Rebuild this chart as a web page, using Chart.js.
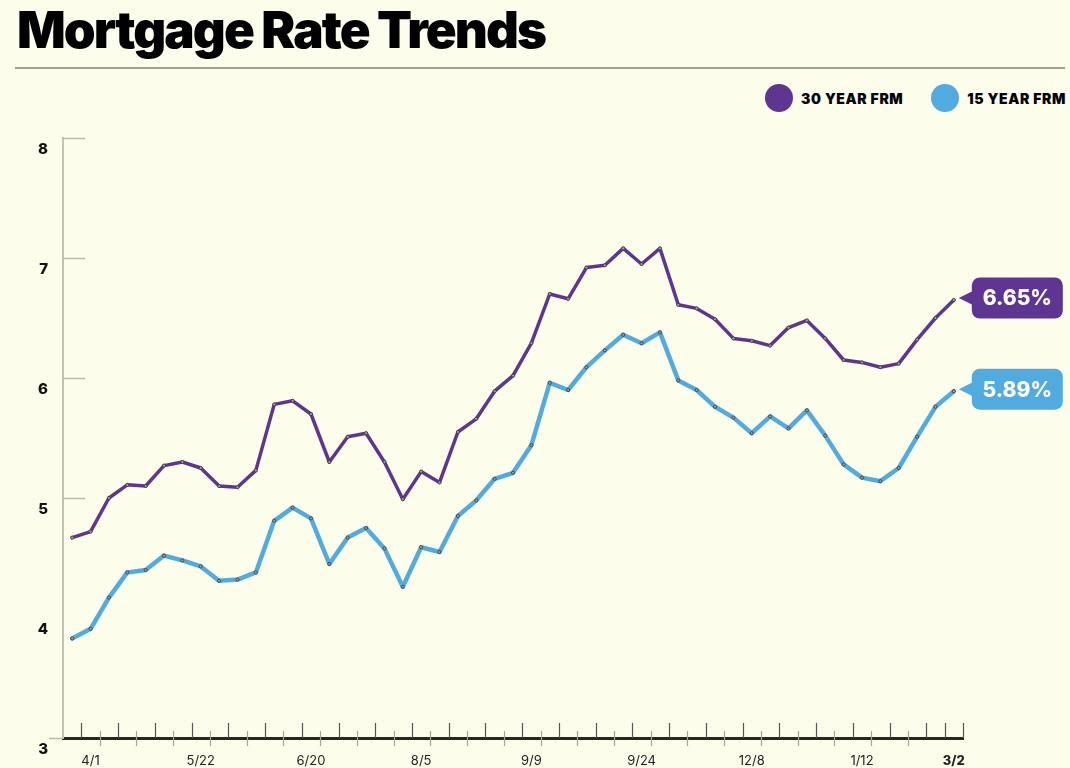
<!DOCTYPE html>
<html lang="en">
<head>
<meta charset="UTF-8">
<title>Mortgage Rate Trends</title>
<script src="https://cdn.jsdelivr.net/npm/chart.js@4"></script>
<style>
  html, body { margin: 0; padding: 0; }
  body { width: 1070px; height: 768px; background: #fdfdec; position: relative; overflow: hidden;
         font-family: Inter, "Noto Sans", sans-serif; color: #000; }
  h1 { position: absolute; left: 17px; top: 4px; margin: 0; font-size: 51px; line-height: 1;
       font-weight: 900; letter-spacing: -1.9px; }
  .rule { position: absolute; left: 15px; right: 5px; top: 67px; height: 2px; background: #a0a096; }
  #legend { position: absolute; left: 765px; top: 84px; display: flex; align-items: center; }
  #legend .dot { width: 28px; height: 28px; border-radius: 50%; }
  #legend .txt { font-size: 14px; font-weight: 900; letter-spacing: 0.6px; margin: 0 28px 0 8px; }
  #legend .txt:last-child { margin-right: 0; }
  canvas { position: absolute; left: 0; top: 0; }
</style>
</head>
<body>
<h1>Mortgage Rate Trends</h1>
<div class="rule"></div>
<div id="legend"></div>
<canvas id="rates" width="1070" height="768"></canvas>
<script>
// weekly survey dates, 3/31 through 3/2
const weeks = ['3/31','4/7','4/14','4/21','4/28','5/5','5/12','5/19','5/26','6/2','6/9','6/16','6/23','6/30',
  '7/7','7/14','7/21','7/28','8/4','8/11','8/18','8/25','9/1','9/8','9/15','9/22','9/29','10/6','10/13',
  '10/20','10/27','11/3','11/10','11/17','11/23','12/1','12/8','12/15','12/22','12/29','1/5','1/12','1/19',
  '1/26','2/2','2/9','2/16','2/23','3/2'];
const tickLabels = ['4/1','5/22','6/20','8/5','9/9','9/24','12/8','1/12','3/2'];
const frm30 = [4.67, 4.72, 5.00, 5.11, 5.10, 5.27, 5.30, 5.25, 5.10, 5.09, 5.23, 5.78, 5.81, 5.70,
  5.30, 5.51, 5.54, 5.30, 4.99, 5.22, 5.13, 5.55, 5.66, 5.89, 6.02, 6.29, 6.70, 6.66, 6.92,
  6.94, 7.08, 6.95, 7.08, 6.61, 6.58, 6.49, 6.33, 6.31, 6.27, 6.42, 6.48, 6.33, 6.15,
  6.13, 6.09, 6.12, 6.32, 6.50, 6.65];
const frm15 = [3.83, 3.91, 4.17, 4.38, 4.40, 4.52, 4.48, 4.43, 4.31, 4.32, 4.38, 4.81, 4.92, 4.83,
  4.45, 4.67, 4.75, 4.58, 4.26, 4.59, 4.55, 4.85, 4.98, 5.16, 5.21, 5.44, 5.96, 5.90, 6.09,
  6.23, 6.36, 6.29, 6.38, 5.98, 5.90, 5.76, 5.67, 5.54, 5.68, 5.58, 5.73, 5.52, 5.28,
  5.17, 5.14, 5.25, 5.51, 5.76, 5.89];
const seriesNames = ['30 YEAR FRM', '15 YEAR FRM'];
const seriesColors = ['#5e3591', '#52abdf'];
const gridValues = [5, 6, 7, 8];

const FONT = 'Inter, "Noto Sans", sans-serif';

// legend in html
const legend = document.getElementById('legend');
seriesNames.forEach((name, i) => {
  const d = document.createElement('span');
  d.className = 'dot';
  d.style.background = seriesColors[i];
  const t = document.createElement('span');
  t.className = 'txt';
  t.textContent = name;
  legend.appendChild(d);
  legend.appendChild(t);
});

// short inner grid marks on y axis + tick marks along x axis
const axisMarks = {
  id: 'axisMarks',
  beforeDatasetsDraw(chart) {
    const { ctx, scales: { x, y }, chartArea } = chart;
    ctx.save();
    ctx.strokeStyle = '#b8b8ad';
    ctx.lineWidth = 1.5;
    gridValues.forEach(v => {
      const py = Math.round(y.getPixelForValue(v)) + 0.5;
      ctx.beginPath();
      ctx.moveTo(chartArea.left, py);
      ctx.lineTo(chartArea.left + 22, py);
      ctx.stroke();
    });
    const step = x.getPixelForValue(1) - x.getPixelForValue(0);
    const start = x.getPixelForValue(0) - step / 2;
    const base = chartArea.bottom;
    ctx.lineWidth = 1.2;
    for (let k = 1; k <= weeks.length; k++) {
      const px = Math.round(start + k * step) + 0.5;
      const cross = k % 2 === 0 && k < weeks.length - 1;
      ctx.strokeStyle = cross ? '#a5a59c' : '#555';
      ctx.beginPath();
      if (cross) { ctx.moveTo(px, base - 7); ctx.lineTo(px, base + 8); }
      else { ctx.moveTo(px, base - 15); ctx.lineTo(px, base); }
      ctx.stroke();
    }
    ctx.restore();
  }
};

// value callouts at the end of each line
const callouts = {
  id: 'callouts',
  afterDatasetsDraw(chart) {
    const { ctx } = chart;
    chart.data.datasets.forEach((ds, i) => {
      const meta = chart.getDatasetMeta(i);
      const last = meta.data.length - 1;
      const pt = meta.data[last];
      const cy = pt.y - 2;
      const bx = pt.x + 18, bw = 91, bh = 41, r = 8;
      ctx.save();
      ctx.fillStyle = ds.borderColor;
      ctx.beginPath();
      ctx.moveTo(pt.x + 5, cy);
      ctx.lineTo(bx + 1, cy - 7);
      ctx.lineTo(bx + 1, cy + 7);
      ctx.closePath();
      ctx.fill();
      ctx.beginPath();
      ctx.roundRect(bx, cy - bh / 2, bw, bh, r);
      ctx.fill();
      ctx.fillStyle = '#fff';
      ctx.font = '800 21px ' + FONT;
      ctx.textAlign = 'center';
      ctx.textBaseline = 'middle';
      ctx.fillText(ds.data[last].toFixed(2) + '%', bx + bw / 2, cy + 1);
      ctx.restore();
    });
  }
};

const pointStyle = {
  pointRadius: 1.6, pointHoverRadius: 1.6, pointBackgroundColor: '#a0a0a0',
  pointBorderColor: '#333', pointBorderWidth: 0.8
};

new Chart(document.getElementById('rates'), {
  type: 'line',
  data: {
    labels: weeks,
    datasets: [
      Object.assign({ label: seriesNames[0], data: frm30, borderColor: seriesColors[0], borderWidth: 3.5 }, pointStyle),
      Object.assign({ label: seriesNames[1], data: frm15, borderColor: seriesColors[1], borderWidth: 4.5 }, pointStyle)
    ]
  },
  options: {
    responsive: false,
    animation: false,
    layout: { padding: { top: 138, right: 107, left: 0, bottom: 0 } },
    elements: {
      line: { tension: 0, borderJoinStyle: 'round', borderCapStyle: 'round' }
    },
    plugins: { legend: { display: false }, tooltip: { enabled: false } },
    scales: {
      x: {
        type: 'category',
        offset: true,
        afterFit: s => { s.height = 30; },
        grid: { display: false },
        border: { display: true, color: '#262626', width: 3 },
        ticks: {
          autoSkip: false, maxRotation: 0, padding: 7, color: '#222',
          font: c => ({ family: FONT, size: 13, weight: c.index === weeks.length - 1 ? '800' : '400' }),
          callback: (v, i) => {
            if (i === weeks.length - 1) return tickLabels[tickLabels.length - 1];
            if ((i - 1) % 6 === 0) return tickLabels[(i - 1) / 6];
            return '';
          }
        }
      },
      y: {
        min: 3, max: 8,
        afterFit: s => { s.width = 63; },
        grid: { drawOnChartArea: false, drawTicks: true, tickLength: 14, tickWidth: 1.5,
                tickColor: c => c.tick && c.tick.value === 3 ? '#b8b8ad' : 'rgba(0,0,0,0)' },
        border: { display: true, color: '#c2c2b6', width: 2 },
        ticks: { stepSize: 1, padding: 1, labelOffset: 11, color: '#111',
                 font: { family: FONT, size: 15, weight: '800' } }
      }
    }
  },
  plugins: [axisMarks, callouts]
});
</script>
</body>
</html>
